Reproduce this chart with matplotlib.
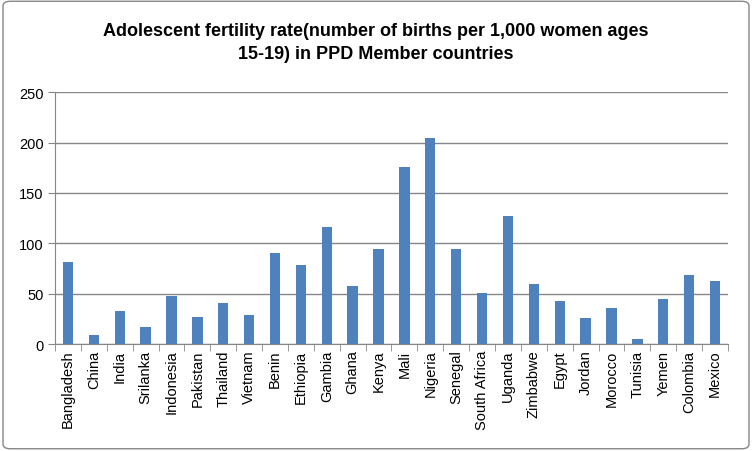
import matplotlib
matplotlib.use("Agg")
import matplotlib.pyplot as plt
from matplotlib.patches import FancyBboxPatch
import numpy as np

countries = ["Bangladesh", "China", "India", "Srilanka", "Indonesia", "Pakistan",
             "Thailand", "Vietnam", "Benin", "Ethiopia", "Gambia", "Ghana", "Kenya",
             "Mali", "Nigeria", "Senegal", "South Africa", "Uganda", "Zimbabwe",
             "Egypt", "Jordan", "Morocco", "Tunisia", "Yemen", "Colombia", "Mexico"]
rates = [81, 9, 33, 17, 48, 27, 41, 29, 90, 78, 116, 58, 94,
         176, 205, 94, 51, 127, 60, 43, 26, 36, 5, 45, 69, 63]
yticks = [0, 50, 100, 150, 200, 250]

GRID = "#868686"

fig = plt.figure(figsize=(7.52, 4.52), dpi=100)
fig.patches.append(FancyBboxPatch((0.004, 0.005), 0.992, 0.99,
                                  boxstyle="round,pad=0,rounding_size=0.01",
                                  transform=fig.transFigure, fill=False,
                                  edgecolor=GRID, linewidth=1))
ax = fig.add_axes([0.0731, 0.2367, 0.895, 0.557])

x = np.arange(len(countries))
ax.bar(x, rates, width=0.4, color="#4F81BD", zorder=3)

ax.set_xlim(-0.5, len(countries) - 0.5)
ax.set_ylim(0, 250)
ax.set_yticks(yticks)
ax.set_yticklabels([str(v) for v in yticks], fontsize=10.5, family="Liberation Sans")
ax.set_xticks(x)
ax.set_xticklabels(countries, rotation=90, fontsize=10.5, family="Liberation Sans")
ax.tick_params(axis="x", which="major", length=0, pad=4)
ax.set_xticks(np.arange(-0.5, len(countries)), minor=True)
ax.tick_params(axis="x", which="minor", length=5, color=GRID)
ax.tick_params(axis="y", length=5, color=GRID, pad=3)

ax.grid(axis="y", color=GRID, linewidth=1, zorder=0)
for side in ["top", "right"]:
    ax.spines[side].set_visible(False)
for side in ["left", "bottom"]:
    ax.spines[side].set_color(GRID)

fig.text(0.5, 0.905, "Adolescent fertility rate(number of births per 1,000 women ages\n15-19) in PPD Member countries",
         ha="center", va="center", fontsize=13, fontweight="bold",
         family="Liberation Sans", linespacing=1.45)

fig.savefig("out.png", dpi=100)
